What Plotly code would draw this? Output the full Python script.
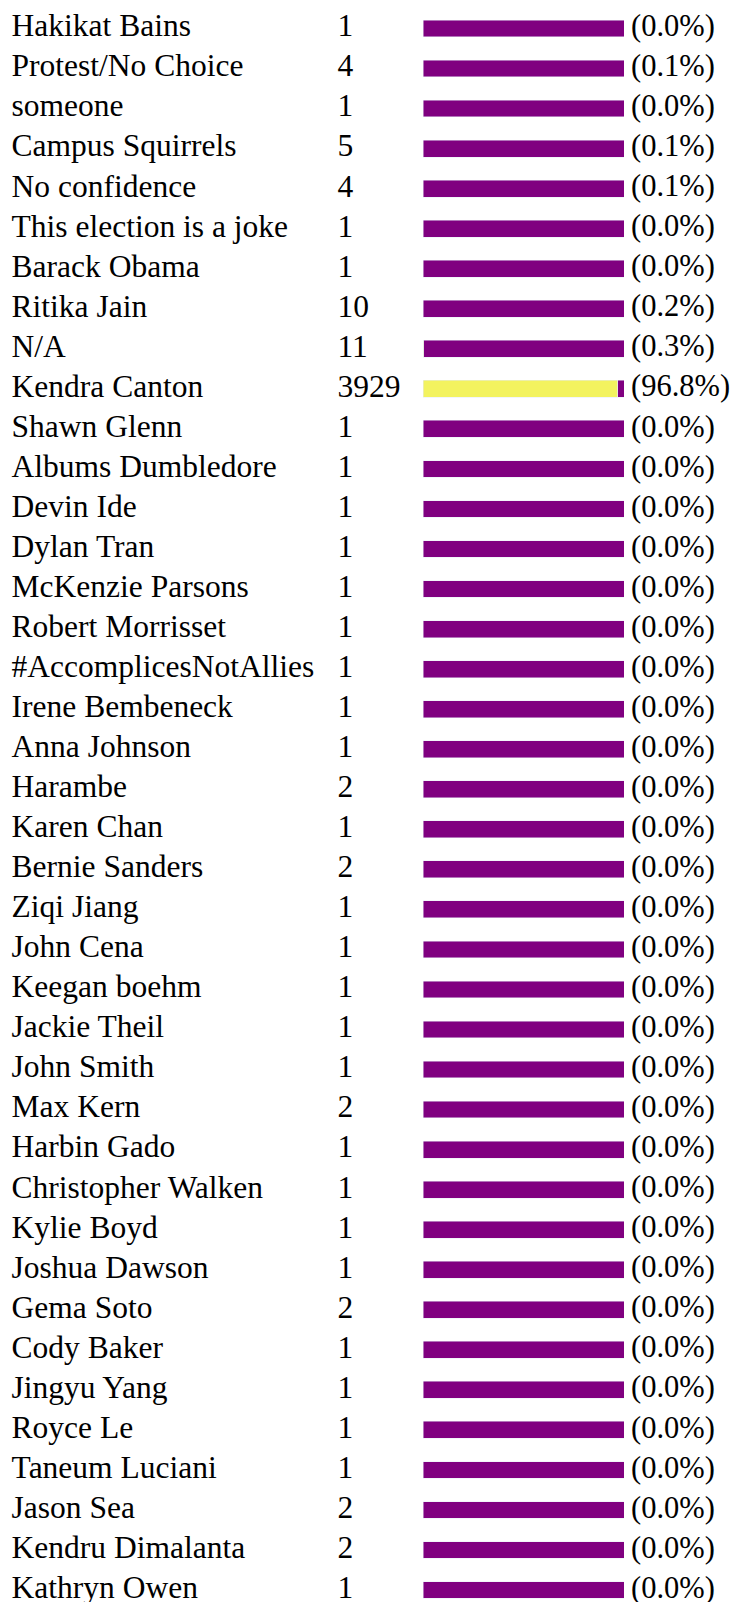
import plotly.graph_objects as go

names = ["Hakikat Bains", "Protest/No Choice", "someone", "Campus Squirrels", "No confidence",
         "This election is a joke", "Barack Obama", "Ritika Jain", "N/A", "Kendra Canton",
         "Shawn Glenn", "Albums Dumbledore", "Devin Ide", "Dylan Tran", "McKenzie Parsons",
         "Robert Morrisset", "#AccomplicesNotAllies", "Irene Bembeneck", "Anna Johnson", "Harambe",
         "Karen Chan", "Bernie Sanders", "Ziqi Jiang", "John Cena", "Keegan boehm",
         "Jackie Theil", "John Smith", "Max Kern", "Harbin Gado", "Christopher Walken",
         "Kylie Boyd", "Joshua Dawson", "Gema Soto", "Cody Baker", "Jingyu Yang",
         "Royce Le", "Taneum Luciani", "Jason Sea", "Kendru Dimalanta", "Kathryn Owen"]
counts = [1, 4, 1, 5, 4, 1, 1, 10, 11, 3929,
          1, 1, 1, 1, 1, 1, 1, 1, 1, 2,
          1, 2, 1, 1, 1, 1, 1, 2, 1, 1,
          1, 1, 2, 1, 1, 1, 1, 2, 2, 1]
pcts = [0.0, 0.1, 0.0, 0.1, 0.1, 0.0, 0.0, 0.2, 0.3, 96.8,
        0.0, 0.0, 0.0, 0.0, 0.0, 0.0, 0.0, 0.0, 0.0, 0.0,
        0.0, 0.0, 0.0, 0.0, 0.0, 0.0, 0.0, 0.0, 0.0, 0.0,
        0.0, 0.0, 0.0, 0.0, 0.0, 0.0, 0.0, 0.0, 0.0, 0.0]

# page body has an 8px margin; figure sized to fit the remaining window
OFF = 8
W, H = 738 - OFF, 1602 - OFF
ROW = 40.04
FIRST = 28.5 - OFF
FAMILY = "Liberation Serif, Times New Roman, serif"
FONT = dict(family=FAMILY, size=31.5, color="black")
FONT_PCT = dict(family=FAMILY, size=30.5, color="black")

rest = [100 - p for p in pcts]
pct_labels = ["(%.1f%%)" % p for p in pcts]

fig = go.Figure()
fig.add_trace(go.Bar(y=names, x=pcts, orientation="h", marker_color="#f3f35f",
                     width=0.42, xaxis="x2", yaxis="y", showlegend=False, hoverinfo="skip"))
fig.add_trace(go.Bar(y=names, x=rest, orientation="h", marker_color="#800080",
                     width=0.42, xaxis="x2", yaxis="y", showlegend=False, hoverinfo="skip"))

def text_col(xpos, labels, font):
    fig.add_trace(go.Scatter(x=[xpos] * len(names), y=names, text=labels, mode="text",
                             textposition="middle right", textfont=font, cliponaxis=False,
                             xaxis="x", yaxis="y", showlegend=False, hoverinfo="skip"))

text_col(3.6, names, FONT)
text_col(329.5, [str(c) for c in counts], FONT)
text_col(623, pct_labels, FONT_PCT)

top = -FIRST / ROW
bottom = top + H / ROW
fig.update_layout(
    width=W, height=H, margin=dict(l=0, r=0, t=0, b=0),
    paper_bgcolor="white", plot_bgcolor="white", barmode="stack",
    xaxis=dict(domain=[0, 1], range=[0, W], visible=False, fixedrange=True),
    xaxis2=dict(domain=[(423 - OFF) / W, (624 - OFF) / W], range=[0, 100], visible=False, anchor="y"),
    yaxis=dict(type="category", categoryorder="array", categoryarray=names,
               range=[bottom, top], visible=False),
)
fig.write_html("out.html")
